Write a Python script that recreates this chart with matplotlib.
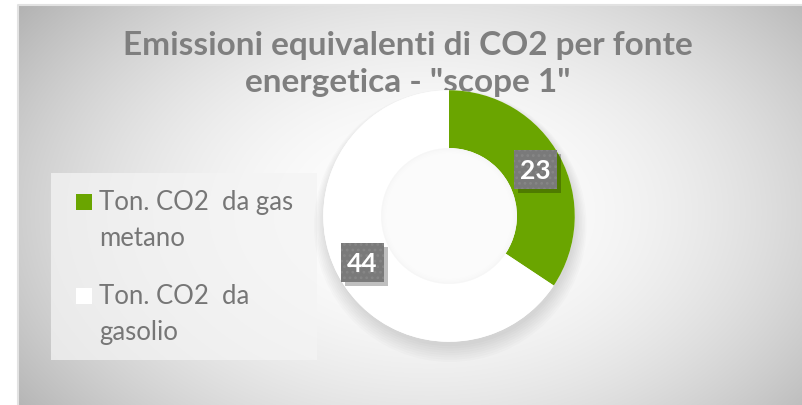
import matplotlib.pyplot as plt
import matplotlib.patches as mpatches
import numpy as np

plt.rcParams['font.family'] = ['Lato', 'DejaVu Sans']
plt.rcParams['hatch.linewidth'] = 1.2

labels = ['Ton. CO2  da gas\nmetano', 'Ton. CO2  da\ngasolio']
values = [23, 44]
colors = ['#6aa500', '#ffffff']
title = 'Emissioni equivalenti di CO2 per fonte\nenergetica - "scope 1"'

W, H = 802, 406
fig = plt.figure(figsize=(W / 100, H / 100), dpi=100)

# background: white outside, grey radial gradient inside the chart frame
bg = fig.add_axes([0, 0, 1, 1])
bg.set_xlim(0, W)
bg.set_ylim(H, 0)
bg.axis('off')
yy, xx = np.mgrid[0:H, 0:W]
r = np.sqrt(((xx - 420) / 440.0) ** 2 + ((yy - 210) / 290.0) ** 2)
grad = 1.0 - 0.21 * np.clip(r, 0, 1.3) ** 2.0
img = np.dstack([grad] * 3)
bg.imshow(img, extent=[18, W, H, 6], zorder=0, interpolation='bilinear')
bg.plot([18, 18, W], [H, 6, 6], color='#e2e2e2', lw=1.5, zorder=1)

# legend panel
bg.add_patch(mpatches.Rectangle((51, 174), 266, 187, facecolor='#f4f4f4',
                                alpha=0.75, edgecolor='none', zorder=2))
ys = [203, 297]
for lab, col, y in zip(labels, colors, ys):
    bg.add_patch(mpatches.Rectangle((76, y - 8), 16, 16, facecolor=col,
                                    edgecolor='none', zorder=3))
    bg.text(99, y - 13, lab, fontsize=18.5, color='#767676', va='top',
            ha='left', linespacing=1.55, zorder=3)

bg.text(408, 64, title, fontsize=24, fontweight='bold', color='#7f7f7f',
        ha='center', va='center', linespacing=1.32, zorder=5)

# donut
cx, cy, R = 449, 217, 131
ax = fig.add_axes([(cx - 1.2 * R) / W, (H - cy - 1.2 * R) / H,
                   2.4 * R / W, 2.4 * R / H])
ax.set_xlim(-1.2, 1.2)
ax.set_ylim(-1.2, 1.2)
ax.set_aspect('equal')
ax.axis('off')

# soft shadow below ring
for i in range(8):
    ax.add_patch(mpatches.Circle((0.01, -0.035 - 0.006 * i), 1.0 + 0.012 * i,
                                 facecolor='#000000', alpha=0.016,
                                 edgecolor='none', zorder=1))
ax.add_patch(mpatches.Circle((0, 0), 1.0, facecolor='#ffffff', edgecolor='none', zorder=1.5))

wedges, _ = ax.pie(values, colors=colors, startangle=90, counterclock=False,
                   radius=1.0, wedgeprops=dict(width=0.46, edgecolor='none'))
for w in wedges:
    w.set_zorder(2)
ax.add_patch(mpatches.Circle((0, 0), 0.54, facecolor='#f4f4f4', edgecolor='none', zorder=2.5))
for i in range(5):
    ax.add_patch(mpatches.Circle((0, 0), 0.54 - 0.01 * i, facecolor='#ffffff',
                                 alpha=0.25, edgecolor='none', zorder=2.6))

for w, v in zip(wedges, values):
    ang = np.radians((w.theta1 + w.theta2) / 2)
    x, y = 0.78 * np.cos(ang), 0.78 * np.sin(ang)
    bw, bh = 0.17, 0.155
    ax.add_patch(mpatches.Rectangle((x - bw + 0.03, y - bh - 0.03), 2 * bw, 2 * bh,
                                    facecolor='#000000', alpha=0.25,
                                    edgecolor='none', zorder=3))
    ax.add_patch(mpatches.Rectangle((x - bw, y - bh), 2 * bw, 2 * bh,
                                    facecolor='#7a7a7a', edgecolor='#868686',
                                    hatch='...', linewidth=0, zorder=4))
    ax.text(x, y - 0.005, str(v), fontsize=19, fontweight='bold', color='white',
            ha='center', va='center', zorder=5)

fig.savefig('out.png', dpi=100)
